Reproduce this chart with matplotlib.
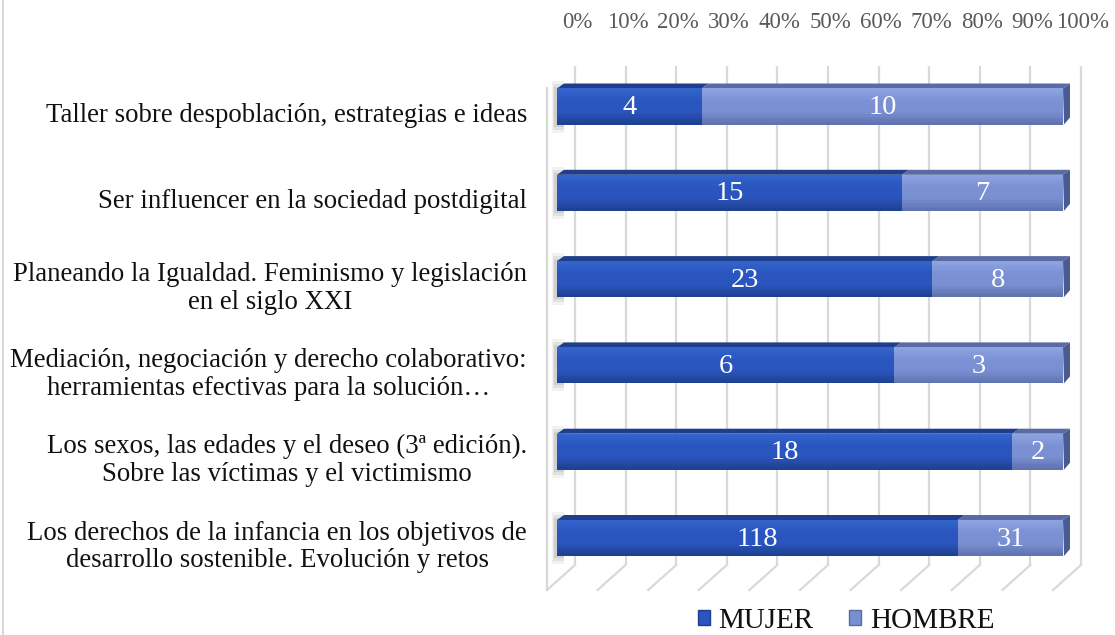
import matplotlib
matplotlib.use("Agg")
import matplotlib.pyplot as plt
from matplotlib.patches import Polygon, Patch
from matplotlib.colors import to_rgb
import numpy as np

# ---------------- data ----------------
categories = [
    "Taller sobre despoblación, estrategias e ideas",
    "Ser influencer en la sociedad postdigital",
    "Planeando la Igualdad. Feminismo y legislación\nen el siglo XXI",
    "Mediación, negociación y derecho colaborativo:\nherramientas efectivas para la solución…",
    "Los sexos, las edades y el deseo (3ª edición).\nSobre las víctimas y el victimismo",
    "Los derechos de la infancia en los objetivos de\ndesarrollo sostenible. Evolución y retos",
]
mujer = [4, 15, 23, 6, 18, 118]
hombre = [10, 7, 8, 3, 2, 31]
series_names = ["MUJER", "HOMBRE"]
tick_values = [0, 10, 20, 30, 40, 50, 60, 70, 80, 90, 100]
tick_labels = [f"{t}%" for t in tick_values]

# ---------------- style ----------------
FONT = ["Liberation Serif", "DejaVu Serif"]
plt.rcParams["font.family"] = FONT

W, H, DPI = 1115, 635, 100
fig = plt.figure(figsize=(W / DPI, H / DPI), dpi=DPI)
fig.patch.set_facecolor("white")

# axes placement in pixels
x0_px, x1_px = 557, 1063          # 0% .. 100% of bar front faces
bar0_px, step_px = 106.5, 86.3    # centre of first bar, spacing
top_px, bot_px = 66, 590
ax = fig.add_axes([x0_px / W, 1 - bot_px / H, (x1_px - x0_px) / W, (bot_px - top_px) / H])
ax.set_xlim(0, 100)
ax.set_ylim((bot_px - bar0_px) / step_px, (top_px - bar0_px) / step_px)
ax.axis("off")

px_x = 100.0 / (x1_px - x0_px)    # data units per pixel (x)
px_y = 1.0 / step_px              # data units per pixel (y)
def ypx(p):
    return (p - bar0_px) / step_px

# 3D frame geometry
back_dx = 18 * px_x                # back wall offset
front_dx = -10 * px_x              # floor front offset
floor_back_y = ypx(565)
floor_front_y = ypx(590)
wall_top_y = ypx(top_px)
grid_col = "#D9D9D9"

for t in tick_values:
    ax.plot([t + back_dx, t + back_dx], [wall_top_y, floor_back_y], color=grid_col, lw=1.6, zorder=1,
            solid_capstyle="butt", clip_on=False)
    ax.plot([t + back_dx, t + front_dx], [floor_back_y, floor_front_y], color=grid_col, lw=1.6, zorder=1,
            clip_on=False)
# left wall front edge
ax.plot([front_dx, front_dx], [ypx(88), floor_front_y], color=grid_col, lw=1.6, zorder=1, clip_on=False)

# top percentage labels
for t, lab in zip(tick_values, tick_labels):
    ax.text(t + back_dx + 2 * px_x, ypx(22), lab, ha="center", va="center", fontsize=16.5,
            color="#595959", clip_on=False)

# ---------------- bars ----------------
tot = np.array(mujer) + np.array(hombre)
pm = np.array(mujer) / tot * 100
ph = np.array(hombre) / tot * 100
y = np.arange(len(categories))
bh = 36 * px_y
ddx, ddy = 7 * px_x, -5 * px_y

# gradient stops (top, middle, bottom) of the front faces
grad = {
    0: ["#3463CC", "#2A55BE", "#2A55BE", "#1E4192"],
    1: ["#8DA2E0", "#7C91D4", "#7A8FD2", "#6074B2"],
}
top_cols = ["#1F3E8C", "#5A6BA3"]
cap_col = "#4A5B8F"

def grad_colors(stops, n):
    rgb = np.array([to_rgb(c) for c in stops])
    pos = np.linspace(0, 1, len(stops))
    t = np.linspace(0, 1, n)
    return [tuple(np.interp(tt, pos, rgb[:, k]) for k in range(3)) for tt in t]

N = 14
band = bh / N
for k, (vals, lefts) in enumerate([(pm, np.zeros_like(pm)), (ph, pm)]):
    cols = grad_colors(grad[k], N)
    for j in range(N):
        yc = y - bh / 2 + band * (j + 0.5)
        ax.barh(yc, vals, left=lefts, height=band * 1.05, color=cols[j], lw=0, zorder=3, clip_on=False)

for i in range(len(y)):
    yt = y[i] - bh / 2
    yb = y[i] + bh / 2
    segs = [(0, pm[i], 0), (pm[i], pm[i] + ph[i], 1)]
    for a, b, k in segs:
        ax.add_patch(Polygon([(a, yt), (b, yt), (b + ddx, yt + ddy), (a + ddx, yt + ddy)],
                             closed=True, facecolor=top_cols[k], edgecolor="none", zorder=2.9,
                             clip_on=False))
    e = pm[i] + ph[i]
    ax.add_patch(Polygon([(e, yt), (e + ddx, yt + ddy), (e + ddx, yb + ddy - 2 * px_y), (e + 1 * px_x, yb)],
                         closed=True, facecolor=cap_col, edgecolor="none", zorder=2.9, clip_on=False))
    # soft left shadow
    for w, a_ in [(8, 0.10), (5, 0.14), (2, 0.18)]:
        ax.add_patch(Polygon([(-(2 + w * 0.4) * px_x, yt - w * px_y), (ddx, yt - w * px_y),
                              (ddx, yb + w * px_y), (-(2 + w * 0.4) * px_x, yb + w * px_y)],
                             closed=True, facecolor="#808080", edgecolor="none", zorder=2.8, alpha=a_,
                             clip_on=False))
    # value labels
    ax.text(pm[i] / 2, y[i] + 1 * px_y, str(mujer[i]), ha="center", va="center", color="white",
            fontsize=20.5, zorder=5)
    ax.text(pm[i] + ph[i] / 2, y[i] + 1 * px_y, str(hombre[i]), ha="center", va="center", color="white",
            fontsize=20.5, zorder=5)

# category labels
lab_x = (527 - x0_px) * px_x
for i, c in enumerate(categories):
    ax.text(lab_x, y[i] + 9 * px_y, c, ha="right", va="center", multialignment="center",
            fontsize=19.3, color="#111111", linespacing=1.15, clip_on=False)

# ---------------- legend ----------------
handles = [Patch(facecolor="#2A55BE", edgecolor="#1F3E8C"),
           Patch(facecolor="#7A8FD2", edgecolor="#5A6BA3")]
fig.legend(handles, series_names, loc="center", bbox_to_anchor=(846 / W, 1 - 621 / H), ncol=2,
           frameon=False, fontsize=21, handlelength=0.42, handleheight=0.42, handletextpad=0.3,
           columnspacing=1.2, borderpad=0, labelcolor="#111111")

# chart border (left side)
fig.add_artist(plt.Line2D([2.5 / W, 2.5 / W], [0, 1], color="#D9D9D9", lw=1.5, transform=fig.transFigure))

fig.savefig("out.png", dpi=DPI)
